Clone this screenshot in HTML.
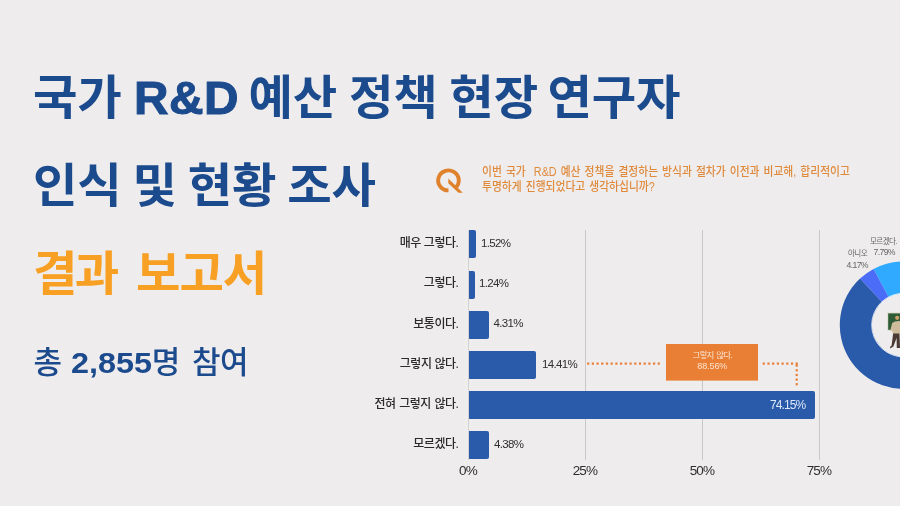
<!DOCTYPE html>
<html lang="ko">
<head>
<meta charset="utf-8">
<title>국가 R&amp;D 예산 정책 현장 연구자 인식 및 현황 조사 결과 보고서</title>
<style>
html,body{margin:0;padding:0;}
body{width:900px;height:506px;overflow:hidden;background:#eeeced;position:relative;
  font-family:"Liberation Sans","Noto Sans CJK KR",sans-serif;}
.abs{position:absolute;white-space:nowrap;line-height:1;}
.t{font-weight:700;color:#1b4a8d;font-size:46.5px;word-spacing:-1.3px;letter-spacing:-0.2px;transform:scaleX(1.04);transform-origin:0 0;}
#t1{left:32.5px;top:74.6px;}
.lat{font-size:46px;-webkit-text-stroke:1px #1b4a8d;letter-spacing:0.5px;margin-right:-2.5px;margin-left:0.5px;position:relative;top:0.3px;}
#t2{left:33px;top:162.7px;word-spacing:-2.2px;}
#t3{left:33px;top:250.6px;color:#f8a024;}
#t4{left:33.5px;top:346.5px;font-size:31px;word-spacing:1px;color:#1b4a8d;font-weight:500;}
#t4 b{font-weight:700;font-size:30px;display:inline-block;transform:scaleX(1.08);margin:0 2.4px 0 2.6px;}
.q{font-size:12.5px;color:#e08a3c;font-weight:500;word-spacing:1.25px;transform:scaleX(.862);transform-origin:0 0;}
#q1{left:481.5px;top:165.5px;}
#q2{left:481.5px;top:181px;}
.lab{font-size:12px;font-weight:500;color:#2a2a2a;text-align:right;right:442px;letter-spacing:-0.45px;margin-top:1px;margin-right:-0.5px}
.val{font-size:11.5px;color:#2e2e2e;letter-spacing:-0.65px;margin-top:0.5px}
.ax{font-size:13.5px;color:#2e2e2e;letter-spacing:-0.9px;transform:translateX(-50%);margin-left:-0.1px;}
.bar{position:absolute;left:469px;height:28px;background:#2a5bab;border-radius:0 2px 2px 0;}
.grid{position:absolute;top:230px;height:230px;width:1px;background:#c9c8c9;}
</style>
</head>
<body>
<div class="abs t" id="t1">국가 <span class="lat">R&amp;D</span> 예산 정책 현장 <span style="margin-left:-2.2px">연구자</span></div>
<div class="abs t" id="t2">인식 및 현황 조사</div>
<div class="abs t" id="t3"><span style="letter-spacing:-2.6px">결과</span> <span style="margin-left:7.2px;letter-spacing:-1px">보고서</span></div>
<div class="abs" id="t4">총 <b>2,855</b>명 <span style="margin-left:2.2px;letter-spacing:-0.6px">참여</span></div>

<svg class="abs" style="left:430px;top:160px" width="40" height="40" viewBox="430 160 40 40">
  <path d="M448.5 190.4 A10.3 10 0 1 1 455.4 187.8" fill="none" stroke="#e0812b" stroke-width="3.9"/>
  <path d="M448.3 178.4 L462.8 192.8 L458.5 192.8 L448.3 183.2 Z" fill="#e0812b"/>
</svg>
<div class="abs q" id="q1">이번 국가&nbsp; R&amp;D 예산 정책을 결정하는 방식과 절차가 이전과 비교해, 합리적이고</div>
<div class="abs q" id="q2">투명하게 진행되었다고 생각하십니까?</div>

<div class="grid" style="left:468px;background:#d4d3d4"></div>
<div class="grid" style="left:585px"></div>
<div class="grid" style="left:702px"></div>
<div class="grid" style="left:819px"></div>

<div class="bar" style="top:230.3px;width:7.2px"></div>
<div class="bar" style="top:270.5px;width:5.8px"></div>
<div class="bar" style="top:310.8px;width:19.9px"></div>
<div class="bar" style="top:351.3px;width:67.3px"></div>
<div class="bar" style="top:391.3px;width:346px"></div>
<div class="bar" style="top:431.4px;width:20.4px"></div>

<div class="abs lab" style="top:236px">매우 그렇다.</div>
<div class="abs lab" style="top:276px">그렇다.</div>
<div class="abs lab" style="top:317px">보통이다.</div>
<div class="abs lab" style="top:357px">그렇지 않다.</div>
<div class="abs lab" style="top:397px;word-spacing:0.6px">전혀 그렇지 않다.</div>
<div class="abs lab" style="top:437px">모르겠다.</div>

<div class="abs val" style="left:481px;top:237px">1.52%</div>
<div class="abs val" style="left:479px;top:277.3px">1.24%</div>
<div class="abs val" style="left:493.5px;top:317.5px">4.31%</div>
<div class="abs val" style="left:542px;top:358px">14.41%</div>
<div class="abs val" style="left:770px;top:398.5px;color:#dce8f7;font-size:12px;letter-spacing:-0.9px">74.15%</div>
<div class="abs val" style="left:494px;top:438px">4.38%</div>

<div class="abs ax" style="left:468.0px;top:464px">0%</div>
<div class="abs ax" style="left:585.0px;top:464px">25%</div>
<div class="abs ax" style="left:702.0px;top:464px">50%</div>
<div class="abs ax" style="left:819.0px;top:464px">75%</div>

<svg class="abs" style="left:580px;top:340px" width="230" height="50" viewBox="580 340 230 50">
  <g fill="#e97f35"><rect x="587.1" y="362.5" width="2.2" height="2.2"/><rect x="591.8" y="362.5" width="2.2" height="2.2"/><rect x="596.5" y="362.5" width="2.2" height="2.2"/><rect x="601.2" y="362.5" width="2.2" height="2.2"/><rect x="605.9" y="362.5" width="2.2" height="2.2"/><rect x="610.6" y="362.5" width="2.2" height="2.2"/><rect x="615.3" y="362.5" width="2.2" height="2.2"/><rect x="620.0" y="362.5" width="2.2" height="2.2"/><rect x="624.7" y="362.5" width="2.2" height="2.2"/><rect x="629.5" y="362.5" width="2.2" height="2.2"/><rect x="634.2" y="362.5" width="2.2" height="2.2"/><rect x="638.9" y="362.5" width="2.2" height="2.2"/><rect x="643.6" y="362.5" width="2.2" height="2.2"/><rect x="648.3" y="362.5" width="2.2" height="2.2"/><rect x="653.0" y="362.5" width="2.2" height="2.2"/><rect x="657.7" y="362.5" width="2.2" height="2.2"/><rect x="762.7" y="362.5" width="2.2" height="2.2"/><rect x="767.4" y="362.5" width="2.2" height="2.2"/><rect x="772.1" y="362.5" width="2.2" height="2.2"/><rect x="776.8" y="362.5" width="2.2" height="2.2"/><rect x="781.5" y="362.5" width="2.2" height="2.2"/><rect x="786.2" y="362.5" width="2.2" height="2.2"/><rect x="790.9" y="362.5" width="2.2" height="2.2"/><rect x="795.6" y="362.5" width="2.2" height="4.2"/><rect x="795.6" y="369.2" width="2.2" height="2.2"/><rect x="795.6" y="373.9" width="2.2" height="2.2"/><rect x="795.6" y="378.5" width="2.2" height="2.2"/><rect x="795.6" y="383.1" width="2.2" height="2.2"/></g>
  <rect x="666" y="344" width="92" height="36.6" fill="#e97f35"/>
</svg>
<div class="abs" style="left:666px;width:92.5px;top:351px;text-align:center;font-size:8.5px;color:#fbe3d0;letter-spacing:-0.8px;word-spacing:1.2px">그렇지 않다.</div>
<div class="abs" style="left:666px;width:92.5px;top:362px;text-align:center;font-size:9px;color:#fbe3d0;letter-spacing:-0.1px">88.56%</div>

<svg class="abs" style="left:830px;top:250px" width="70" height="150" viewBox="830 250 70 150">
  <path d="M914.56 262.37 A63.70 63.70 0 0 0 873.55 268.88 L888.69 297.30 A31.50 31.50 0 0 1 908.97 294.08 Z" fill="#2faaff"/>
  <path d="M873.55 268.88 A63.70 63.70 0 0 0 860.01 278.56 L881.99 302.08 A31.50 31.50 0 0 1 888.69 297.30 Z" fill="#4a6cf7"/>
  <path d="M860.01 278.56 A63.70 63.70 0 0 0 925.29 384.96 L914.27 354.70 A31.50 31.50 0 0 1 881.99 302.08 Z" fill="#2a5bab"/>
  <circle cx="903.5" cy="325.1" r="31.8" fill="none" stroke="#fbfbfb" stroke-width="1" opacity=".8"/>
  <rect x="887.4" y="312.6" width="14" height="18" fill="#dcd6c4"/>
  <rect x="888.2" y="313.4" width="13" height="16.4" fill="#2f5c36"/>
  <path d="M893.2 333 L899.5 333 L900 348 L896.8 348 L896.6 338 L893.4 346.6 L890.2 348.4 L890 347 L891.6 345.4 Z" fill="#4a3a33"/>
  <path d="M892.2 323 Q895 320.6 900 321 L900 333.4 L892.6 333.4 L892.4 330 L891 331.4 L890.4 330 Z" fill="#cdbb9c"/>
  <circle cx="897.2" cy="317.8" r="2.1" fill="#cfa06a"/>
</svg>
<div class="abs" style="left:870px;top:237.5px;font-size:7.5px;color:#666;letter-spacing:-0.55px">모르겠다.</div>
<div class="abs" style="left:873.5px;top:247.5px;font-size:8.7px;color:#666;letter-spacing:-0.65px">7.79%</div>
<div class="abs" style="left:848px;top:250px;font-size:7.5px;color:#666;letter-spacing:-0.55px">아니오</div>
<div class="abs" style="left:846.5px;top:260.5px;font-size:8.7px;color:#666;letter-spacing:-0.65px">4.17%</div>
</body>
</html>
